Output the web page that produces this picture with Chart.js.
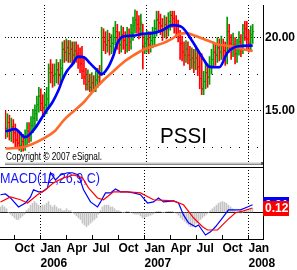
<!DOCTYPE html>
<html><head><meta charset="utf-8">
<script src="https://cdn.jsdelivr.net/npm/chart.js@4.4.1/dist/chart.umd.min.js"></script>
<style>
html,body{margin:0;padding:0;background:#fff;overflow:hidden;width:297px;height:270px}
canvas{position:absolute;left:0;display:block}
#c1{top:0}
#c2{top:167px}
</style></head><body>
<canvas id="c1" width="297" height="167"></canvas>
<canvas id="c2" width="297" height="103"></canvas>
<script>
// ---- weekly OHLC (bar index 0 = mid Aug 2005, index 20 = Jan 2006) ----
const opens = [14.3,13.8,14.2,13.6,13.9,13.5,13.0,12.8,12.6,12.9, 12.5,13.2,13.6,13.4,14.0,14.5,14.8,15.4,16.0,15.5,
 15.2,15.4,15.8,17.9,17.6,17.4,17.5,17.8,17.4,17.9, 19.2,19.0,19.3,18.9,19.2,18.8,19.1,18.9,18.6,18.2,
 17.7,17.3,16.8,17.0,16.6,16.9,16.5,17.1,17.6,17.5, 20.0,19.7,19.5,19.8,19.4,19.6,20.0,20.4,19.8,19.5,
 20.2,19.8,19.5,20.1,19.7,20.3,21.0,21.2,20.9,20.6, 20.9,19.4,19.6,19.9,19.5,19.8,20.0,20.6,21.2,21.0,
 20.8,20.5,20.9,20.6,21.1,21.5,21.3,20.9,20.8,20.3, 19.6,19.0,18.8,19.2,18.8,18.5,18.6,18.3,18.6,18.0,
 17.2,16.5,17.0,17.6,17.3,18.0,18.5,19.0,18.8,19.3, 19.0,19.4,19.1,18.8,20.4,19.6,19.2,19.5,18.9,19.3,
 19.7,19.4,20.8,20.6,19.9,19.6,20.2];
const highs = [15.0,14.8,14.7,14.5,14.4,14.1,13.7,13.5,13.5,13.4, 13.7,14.2,14.2,14.6,15.1,15.4,16.0,16.6,16.5,16.1,
 16.2,16.6,18.2,18.5,18.2,18.2,18.5,18.3,18.5,19.7, 19.8,19.9,19.8,19.8,19.7,19.7,19.7,19.5,19.3,19.4,
 18.7,17.9,17.8,17.5,17.6,17.4,17.7,17.9,18.1,20.7, 20.6,20.4,20.5,20.3,20.2,20.7,21.1,20.9,20.4,20.8,
 20.7,20.4,20.7,20.6,20.9,21.4,21.9,21.8,21.5,21.6, 20.9,20.2,20.5,20.4,20.4,20.7,21.2,21.8,21.8,21.6,
 21.3,21.5,21.4,21.7,21.8,21.8,21.8,21.5,21.2,20.5, 20.1,19.7,19.8,19.7,19.4,19.3,19.2,19.3,19.2,18.8,
 18.9,17.7,18.3,18.2,18.7,19.2,19.7,19.6,20.0,19.9, 20.1,19.9,19.7,21.4,20.9,20.2,20.3,20.0,19.9,20.4,
 20.2,20.9,21.1,21.1,20.5,20.8,20.9];
const lows = [13.1,13.2,13.0,12.9,12.8,12.5,12.4,12.3,12.2,12.25, 12.3,12.6,12.8,12.9,13.5,13.9,14.3,14.9,15.0,14.6,
 14.7,14.8,15.3,16.9,16.6,16.7,16.9,16.8,16.9,17.2, 18.3,18.4,18.3,18.3,18.2,18.2,18.3,17.9,17.6,17.2,
 16.8,16.4,16.4,16.3,16.3,16.3,16.3,16.6,16.8,17.4, 19.1,18.9,19.0,18.8,18.9,19.0,19.5,19.2,18.9,19.0,
 19.2,18.9,19.0,19.1,19.2,19.8,20.3,20.3,19.9,20.1, 17.85,18.9,19.0,18.9,19.0,19.3,19.5,20.1,20.4,20.2,
 19.8,20.0,19.9,20.1,20.5,20.7,20.3,20.2,19.7,18.5, 18.4,18.1,18.3,18.2,17.8,17.9,17.6,17.8,17.4,16.5,
 16.1,16.1,16.5,16.6,16.8,17.5,18.0,18.1,18.3,18.4, 18.5,18.5,18.1,18.2,19.0,18.5,18.7,18.2,18.3,18.8,
 18.7,18.9,19.8,19.2,19.0,19.1,19.6];
const closes = [13.8,14.2,13.6,13.9,13.5,13.0,12.8,12.6,12.9,12.5, 13.2,13.6,13.4,14.0,14.5,14.8,15.4,16.0,15.5,15.2,
 15.4,15.8,17.6,17.6,17.4,17.5,17.8,17.4,17.9,19.2, 19.0,19.3,18.9,19.2,18.8,19.1,18.9,18.6,18.2,17.7,
 17.3,16.8,17.0,16.6,16.9,16.5,17.1,17.3,17.4,20.0, 19.7,19.5,19.8,19.4,19.6,20.0,20.4,19.8,19.5,20.2,
 19.8,19.5,20.1,19.7,20.3,20.8,21.2,20.9,20.6,21.0, 19.4,19.6,19.9,19.5,19.8,20.0,20.6,21.2,21.0,20.8,
 20.5,20.9,20.6,21.1,21.5,21.3,20.9,20.8,20.3,19.6, 19.0,18.8,19.2,18.8,18.5,18.6,18.3,18.6,18.0,17.2,
 16.5,17.0,17.6,17.3,18.0,18.5,19.0,18.8,19.3,19.0, 19.4,19.1,18.8,20.4,19.6,19.2,19.5,18.9,19.3,19.7,
 19.4,20.3,20.6,19.9,19.6,20.2,20.4];

// ---- moving averages ----
const maFastIdx = [0,5,10,15,20,24,27,29,31,34,37,40,43,46,49,52,55,57,60,65,70,75,80,85,90,95,98,101,104,109,113,116,121,126];
const maFastVal = [13.6,13.75,13.2,13.8,14.84,15.6,16.4,17.1,17.65,18.15,18.7,18.65,18.25,17.85,17.5,17.9,18.76,19.6,20.07,20.13,20.26,20.3,20.5,20.85,20.7,19.8,19.15,18.5,18.0,17.97,18.95,19.3,19.43,19.45];
const maSlowIdx = [0,10,20,25,30,35,40,45,50,55,60,65,70,75,80,85,89,92,97,103,108,115,121,126];
const maSlowVal = [12.42,12.55,13.15,13.6,14.4,15.0,15.6,16.4,17.1,17.7,18.3,18.76,19.15,19.4,19.6,19.93,20.26,20.3,20.1,19.8,19.55,19.4,19.2,19.08];

// ---- MACD panel ----
const macdIdx = [0,2.5,5,9,12.5,15,16.5,19,21,23.5,25,27.5,30,33.5,36,39,41.5,45,48.5,50,52.5,55,57.5,60,63.5,66.5,70,73.5,76.5,79,81.5,86.5,89,91.5,94,97.5,99,102.5,105,107.5,111,114,117.5,120,123.5,126];
const macdVal = [0.49,0.51,0.40,0.15,0.26,0.43,0.63,0.57,0.57,0.68,1.10,0.90,1.04,1.10,1.10,1.04,0.63,0.29,0.15,0.29,0.54,0.54,0.65,0.57,0.57,0.54,0.49,0.26,0.29,0.40,0.29,0.32,0.26,-0.07,-0.29,-0.40,-0.35,-0.63,-0.54,-0.40,-0.15,0.07,0.07,0.07,0.15,0.21];
const signalIdx = [0,5,10,13.5,18.5,22.5,26.5,31.5,36.5,41,44,48.5,51.5,56.5,63.5,70,76.5,86.5,91.5,96.5,101,103.5,108.5,113.5,117.5,121.5,126];
const signalVal = [0.29,0.43,0.35,0.26,0.49,0.63,0.82,0.96,1.04,0.96,0.68,0.40,0.35,0.57,0.57,0.54,0.35,0.32,0.21,-0.15,-0.40,-0.49,-0.49,-0.21,-0.01,0.04,0.12];
const histVal = [0.15,0.2,0.15,0.1,0.0, -0.05,-0.1,-0.15,-0.2,-0.2,-0.15,-0.1,-0.05, 0.05,0.1,0.2,0.25,0.3,0.25,0.2,
 0.15,0.2,0.2,0.25,0.3, 0.2,0.15,0.2,0.15,0.1,0.1, 0.05,0.05,0.1,0.05,0.05,0.0,-0.05,
 -0.1,-0.15,-0.2,-0.3,-0.35,-0.4,-0.35,-0.3,-0.25,-0.2, -0.15,-0.05,0.05,0.15,0.2,
 0.2,0.2,0.15,0.15,0.1,0.05,0.05, 0.02,0,0,0.03,0.02,0,-0.02,-0.05,-0.05,-0.05,-0.1,-0.15,
 -0.15,-0.12,-0.1,-0.08,-0.05,-0.02,0.02, 0.03,0.02,0,0,0.02,0.03,0.03,0.02,0,-0.03,
 -0.08,-0.15,-0.2,-0.25,-0.3,-0.35,-0.4,-0.4,-0.35,-0.3,-0.25,-0.2,-0.15,-0.1,
 -0.05,0,0.05,0.1,0.15,0.2,0.25,0.28,0.3,0.28,0.25,0.2,0.15,0.1,0.05,
 0.02,0,-0.02,0,0.02,0.03,0.05,0.08,0.1];

// ---- axis labels ----
const quarterTicks = [7,20,33,46,59,72,85,98,111,124];
const monthLabels = ['Oct','Jan','Apr','Jul','Oct','Jan','Apr','Jul','Oct','Jan'];
const yearLabels = ['','2006','','','','2007','','','','2008'];
const priceTicks = [12.5,15,17.5,20];
const symbolText = 'PSSI';
const copyrightText = 'Copyright \u00A9 2007 eSignal.';
const macdTitle = 'MACD(12,26,9,C)';

const UP = '#009a00', DOWN = '#ff0000';
const FONT = '"Liberation Sans", Arial, sans-serif';
const barColors = closes.map((c,i) => c >= opens[i] ? UP : DOWN);
const idx = closes.map((_,i) => i);

function xAxis(show){
  return {
    type:'linear', min:-0.25, max:131.25, offset:false,
    afterBuildTicks: s => { s.ticks = quarterTicks.map(v => ({value:v})); },
    grid:{ offset:false, drawTicks:false, lineWidth:1,
      color: c => (c.tick && yearLabels[quarterTicks.indexOf(c.tick.value)]) ? '#000' : 'rgba(0,0,0,0)' },
    border:{ display:show, color:'#000', width:1, dash:[1,2] },
    ticks:{ display:show, autoSkip:false, maxRotation:0, minRotation:0, align:'start', padding:2, color:'#000',
      font:{family:FONT, size:12, weight:'bold', lineHeight:1.25},
      callback:(v,i) => yearLabels[i] ? [monthLabels[i], yearLabels[i]] : monthLabels[i] },
    afterFit: s => { s.height = show ? 31 : 0; s.paddingLeft = 0; s.paddingRight = 0; }
  };
}

const common = {
  responsive:false, animation:false, devicePixelRatio:1, events:[],
  plugins:{ legend:{display:false}, tooltip:{enabled:false} }
};

const mainDecor = {
  id:'mainDecor',
  beforeDatasetsDraw(chart){
    const {ctx, chartArea:a} = chart;
    ctx.save();
    ctx.fillStyle = '#000'; ctx.textAlign = 'left'; ctx.textBaseline = 'alphabetic';
    ctx.font = '22px ' + FONT; ctx.fillText(symbolText, a.left + 155, a.top + 138, 47);
    ctx.font = '10px ' + FONT; ctx.fillText(copyrightText, a.left + 1, a.bottom - 2, 96);
    ctx.restore();
  },
  afterDraw(chart){
    const {ctx, chartArea:a} = chart;
    ctx.save();
    ctx.fillStyle = '#e4e4e4'; ctx.fillRect(a.left, a.bottom, a.right - a.left, 1);
    ctx.fillStyle = '#c4c4c4'; ctx.fillRect(a.left, a.bottom + 1, a.right - a.left, 1);
    ctx.fillStyle = '#8c8c8c'; ctx.fillRect(a.left, a.bottom + 2, a.right - a.left, 1);
    ctx.fillStyle = '#606060'; ctx.fillRect(a.right - 2, a.bottom, 2, 3);
    ctx.fillStyle = '#000'; ctx.fillRect(a.right, a.bottom, 1, chart.height - a.bottom);
    ctx.restore();
  }
};

new Chart(document.getElementById('c1'), {
  type:'bar',
  data:{ datasets:[
    { type:'line', data: maFastIdx.map((v,k) => ({x:v, y:maFastVal[k]})), borderColor:'#0000ff', borderWidth:2.6,
      pointRadius:0, cubicInterpolationMode:'monotone', fill:false, order:0 },
    { type:'line', data: maSlowIdx.map((v,k) => ({x:v, y:maSlowVal[k]})), borderColor:'#ff6a2a', borderWidth:2.6,
      pointRadius:0, cubicInterpolationMode:'monotone', fill:false, order:1 },
    { type:'scatter', data: idx.map(i => ({x:i, y:opens[i]})), pointStyle:'dash', pointRotation:180, pointRadius:1.5,
      pointBorderColor: barColors, pointBorderWidth:1, order:2 },
    { type:'scatter', data: idx.map(i => ({x:i, y:closes[i]})), pointStyle:'dash', pointRotation:0, pointRadius:1.5,
      pointBorderColor: barColors, pointBorderWidth:1, order:2 },
    { type:'bar', data: idx.map(i => ({x:i, y:[lows[i], highs[i]]})), backgroundColor: barColors,
      barThickness:1, borderWidth:0, order:3 }
  ]},
  options: Object.assign({}, common, {
    layout:{ padding:{left:0, right:0, top:0, bottom:3} },
    scales:{
      x: xAxis(false),
      y: { position:'right', min:11.503, max:22.222,
        afterBuildTicks: s => { s.ticks = priceTicks.map(v => ({value:v})); },
        grid:{ color:'#000', lineWidth:1, drawTicks:false },
        border:{ display:true, color:'#000', width:1, dash: c => (c.tick && c.tick.value % 5 === 0) ? [1,2] : [1,8] },
        ticks:{ padding:2, color:'#000', font:{family:FONT, size:12, weight:'bold'},
          callback: v => v % 5 === 0 ? v.toFixed(2) : '' },
        afterFit: s => { s.width = 34; s.paddingTop = 0; s.paddingBottom = 0; }
      }
    }
  }),
  plugins:[mainDecor]
});

const macdDecor = {
  id:'macdDecor',
  beforeDatasetsDraw(chart){
    const {ctx, chartArea:a} = chart;
    ctx.save();
    ctx.fillStyle = '#1414ff'; ctx.textAlign = 'left'; ctx.textBaseline = 'alphabetic';
    ctx.font = '14px ' + FONT; ctx.fillText(macdTitle, a.left, a.top + 15.5, 100);
    const xs = chart.scales.x;
    ctx.strokeStyle = '#000'; ctx.lineWidth = 1; ctx.beginPath();
    quarterTicks.forEach(v => { const px = Math.round(xs.getPixelForValue(v) - 0.5) + 0.5; ctx.moveTo(px, a.bottom - 4); ctx.lineTo(px, a.bottom); });
    ctx.stroke();
    ctx.restore();
  },
  afterDraw(chart){
    const {ctx, chartArea:a} = chart; const ys = chart.scales.y;
    ctx.save();
    ctx.fillStyle = '#000'; ctx.fillRect(a.left, a.top, a.right - a.left + 1, 1);
    const box = (v, col) => {
      const py = ys.getPixelForValue(v);
      ctx.fillStyle = col; ctx.fillRect(a.right, Math.round(py - 7.5), 26, 15);
      ctx.fillStyle = '#fff'; ctx.font = 'bold 12px ' + FONT; ctx.textBaseline = 'middle';
      ctx.fillText(v.toFixed(2), a.right + 2, Math.round(py) + 1);
    };
    box(macdVal[macdVal.length - 1], '#0000ff');
    box(signalVal[signalVal.length - 1], '#ff0000');
    ctx.restore();
  }
};

new Chart(document.getElementById('c2'), {
  type:'bar',
  data:{ datasets:[
    { type:'line', data: signalIdx.map((v,k) => ({x:v, y:signalVal[k]})), borderColor:'#ff0000', borderWidth:1.2,
      pointRadius:0, tension:0, fill:false, order:0 },
    { type:'line', data: macdIdx.map((v,k) => ({x:v, y:macdVal[k]})), borderColor:'#0000ff', borderWidth:1.2,
      pointRadius:0, tension:0, fill:false, order:1 },
    { type:'bar', data: idx.map(i => ({x:i, y:histVal[i]})), backgroundColor:'#c4c4c4',
      barThickness:1, borderWidth:0, order:2 }
  ]},
  options: Object.assign({}, common, {
    layout:{ padding:0 },
    scales:{
      x: xAxis(true),
      y: { position:'right', min:-0.74, max:1.26,
        afterBuildTicks: s => { s.ticks = [{value:0}]; },
        grid:{ color:'#000', lineWidth:1, drawTicks:false },
        border:{ display:true, color:'#000', width:1 },
        ticks:{ display:false },
        afterFit: s => { s.width = 34; s.paddingTop = 0; s.paddingBottom = 0; }
      }
    }
  }),
  plugins:[macdDecor]
});
</script>
</body></html>
